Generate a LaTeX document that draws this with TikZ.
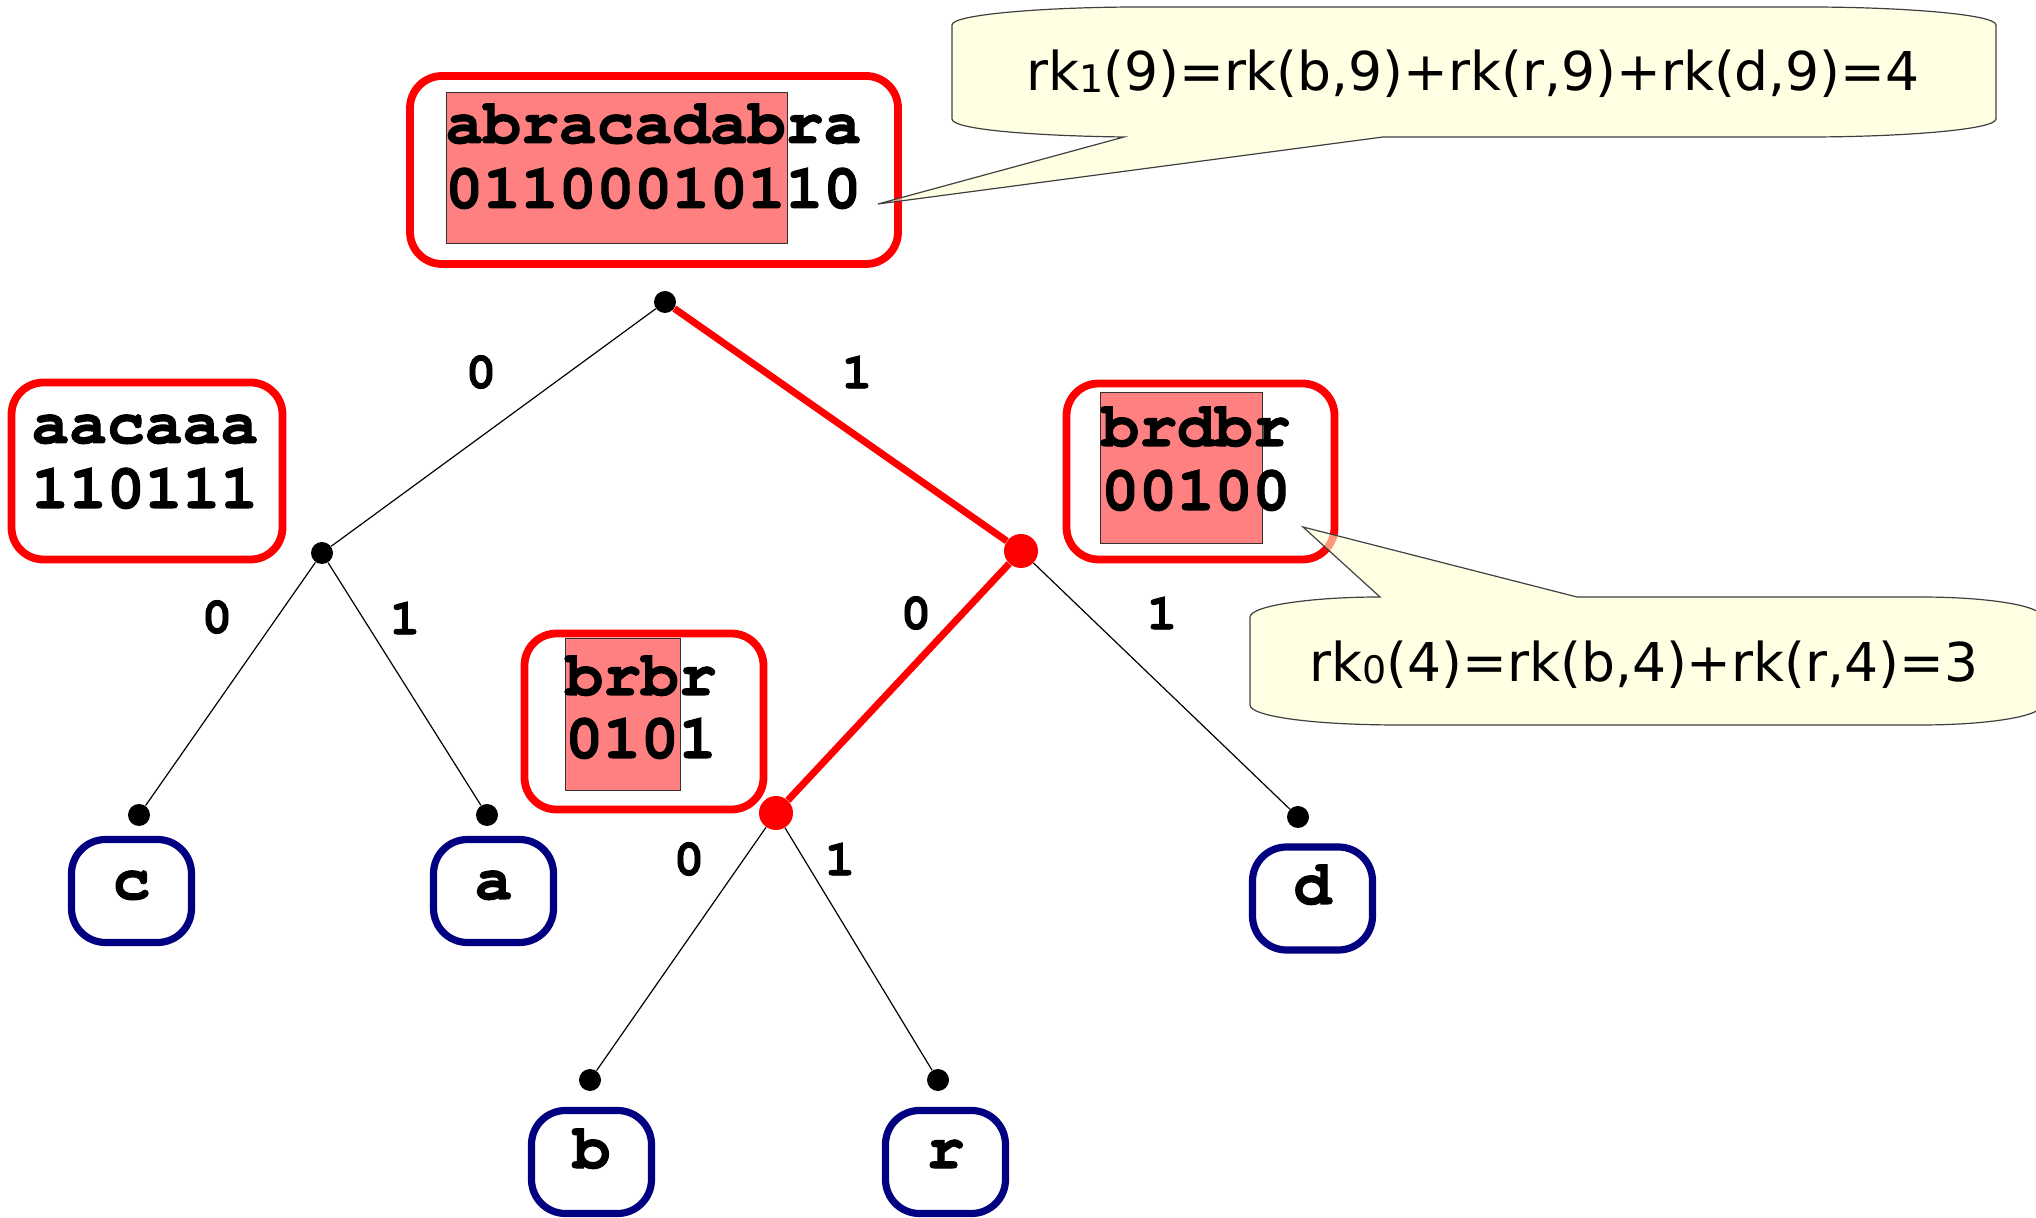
\documentclass[tikz,border=0pt]{standalone}
\usepackage{fontspec}
\setmainfont{DejaVu Sans}
\setmonofont{texgyrecursor-regular.otf}[BoldFont=texgyrecursor-bold.otf,BoldFeatures={FakeBold=1.6}]
\definecolor{navyc}{HTML}{000080}
\definecolor{pinkc}{HTML}{FF8080}
\definecolor{calloutc}{HTML}{FFFFD2}
\begin{document}
\begin{tikzpicture}[x=0.5pt,y=-0.5pt,
  redbox/.style={draw=red, line width=3.9pt, rounded corners=16pt, inner sep=0pt},
  leafbox/.style={draw=navyc, line width=3.6pt, rounded corners=17pt, inner sep=0pt, minimum width=60pt, minimum height=51.5pt},
  hl/.style={fill=pinkc, draw=black!80, line width=0.5pt, inner sep=0pt},
  mono/.style={font=\ttfamily\bfseries\fontsize{31.5}{36}\selectfont, inner sep=0pt, anchor=base west},
  leaftxt/.style={font=\ttfamily\bfseries\fontsize{31.5}{36}\selectfont, inner sep=0pt, anchor=base},
  lbl/.style={font=\ttfamily\bfseries\fontsize{25.5}{30}\selectfont, inner sep=0pt},
  dot/.style={circle, fill=black, inner sep=0pt, minimum size=11pt},
  rdot/.style={circle, fill=red, inner sep=0pt, minimum size=17pt},
  thinedge/.style={line width=0.6pt},
  rededge/.style={draw=red, line width=3.5pt},
  callout/.style={draw=black!75, line width=0.6pt, fill=calloutc, fill opacity=0.6},
  ctext/.style={font=\fontsize{26.75}{32}\selectfont, inner sep=0pt, anchor=base}
]
\useasboundingbox (0,0) rectangle (2036,1218);

% red boxes
\node[redbox, minimum width=244pt, minimum height=94pt] (rootbox) at (654,170) {};
\node[redbox, minimum width=135.5pt, minimum height=88.5pt] (aacbox) at (147,471) {};
\node[redbox, minimum width=134pt, minimum height=88pt] (brdbox) at (1200.5,471.5) {};
\node[redbox, minimum width=119.5pt, minimum height=88pt] (brbbox) at (644,721.5) {};

% highlights
\node[hl, minimum width=170.5pt, minimum height=75.5pt] (roothl) at (616.5,168.5) {};
\node[hl, minimum width=81pt, minimum height=75.5pt] (brdhl) at (1181,468.5) {};
\node[hl, minimum width=57.5pt, minimum height=76pt] (brbhl) at (622.5,715) {};

% box texts
\node[mono] (rootA) at (445,143) {abracadabra};
\node[mono] (rootB) at (445,208) {01100010110};
\node[mono] (aacA) at (31,443) {aacaaa};
\node[mono] (aacB) at (31,508) {110111};
\node[mono] (brdA) at (1101,446) {brdbr};
\node[mono] (brdB) at (1101,510) {00100};
\node[mono] (brbA) at (565,695) {brbr};
\node[mono] (brbB) at (565,758) {0101};

% leaf boxes
\node[leafbox] (cbox) at (131.5,891) {};
\node[leafbox] (abox) at (493.5,891) {};
\node[leafbox] (dbox) at (1312.5,898.5) {};
\node[leafbox] (bbox) at (591.5,1162) {};
\node[leafbox] (rbox) at (945.5,1162) {};
\node[leaftxt] (ctxt) at (131.5,899) {c};
\node[leaftxt] (atxt) at (493.5,899) {a};
\node[leaftxt] (dtxt) at (1312.5,904) {d};
\node[leaftxt] (btxt) at (591.5,1168) {b};
\node[leaftxt] (rtxt) at (945.5,1168) {r};

% tree dots
\node[dot] (n0) at (665,302) {};
\node[dot] (n1) at (322,553) {};
\node[rdot] (n2) at (1021,551) {};
\node[dot] (n3) at (139,815) {};
\node[dot] (n4) at (487,815) {};
\node[rdot] (n5) at (776,813) {};
\node[dot] (n6) at (1298,817) {};
\node[dot] (n7) at (590,1080) {};
\node[dot] (n8) at (938,1080) {};

% edges
\draw[thinedge] (n0) -- (n1);
\draw[rededge] (n0) -- (n2);
\draw[thinedge] (n1) -- (n3);
\draw[thinedge] (n1) -- (n4);
\draw[rededge] (n2) -- (n5);
\draw[thinedge] (n2) -- (n6);
\draw[thinedge] (n5) -- (n7);
\draw[thinedge] (n5) -- (n8);

% edge labels
\node[lbl] (l01) at (481,372) {0};
\node[lbl] (l02) at (857,372) {1};
\node[lbl] (l11) at (217,617) {0};
\node[lbl] (l12) at (405,618) {1};
\node[lbl] (l21) at (916,613) {0};
\node[lbl] (l22) at (1162,613) {1};
\node[lbl] (l51) at (689,859) {0};
\node[lbl] (l52) at (840,859) {1};

% callouts
\coordinate (tip1) at (878,204);
\coordinate (tip2) at (1303,527);
\path[callout] (952,25) .. controls (952,14) and (1050,7) .. (1140,7) -- (1808,7)
  .. controls (1898,7) and (1996,14) .. (1996,25) -- (1996,119)
  .. controls (1996,130) and (1898,137) .. (1808,137) -- (1383,137) -- (tip1) -- (1124,137)
  .. controls (1040,136) and (952,130) .. (952,119) -- cycle;
\path[callout] (1250,617) .. controls (1250,606) and (1310,597) .. (1380,597) -- (tip2) -- (1577,597) -- (1920,597)
  .. controls (1990,597) and (2042,606) .. (2042,617) -- (2042,705)
  .. controls (2042,716) and (1990,725) .. (1920,725) -- (1400,725)
  .. controls (1310,725) and (1250,716) .. (1250,705) -- cycle;
\node[ctext] (c1txt) at (1473,91) {rk{\fontsize{19}{19}\selectfont\raisebox{-1pt}{1}}(9)=rk(b,9)+rk(r,9)+rk(d,9)=4};
\node[ctext] (c2txt) at (1644,682) {rk{\fontsize{19}{19}\selectfont\raisebox{-1pt}{0}}(4)=rk(b,4)+rk(r,4)=3};
\end{tikzpicture}
\end{document}
